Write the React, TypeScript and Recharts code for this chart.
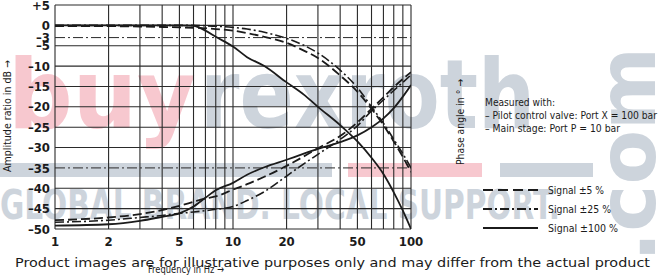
import React from 'react'
import { LineChart, Line, XAxis, YAxis, ReferenceLine } from 'recharts'

// frequency in Hz
const freqHz = [1, 2, 3, 4, 5, 6, 7, 8, 10, 12, 15, 20, 25, 30, 40, 50, 60, 70, 80, 90, 100]

// amplitude ratio in dB
const ampSignal5 = [-0.2, -0.2, -0.3, -0.4, -0.5, -0.6, -0.7, -0.9, -1.3, -1.9, -2.8, -4.3, -6.2, -8, -12.3, -16.3, -20.5, -24.5, -28.5, -32.3, -36]
const ampSignal25 = [0, 0, 0, 0, 0, 0, -0.1, -0.2, -0.5, -0.9, -1.7, -3.2, -4.9, -6.8, -11, -15.3, -20, -24, -28, -31.5, -35]
const ampSignal100 = [0, 0, 0, 0, 0, -0.1, -1.3, -2.8, -5.2, -7.8, -10, -14, -17, -20, -24.5, -28.5, -32.5, -36.5, -41, -45.5, -50]

// phase angle in degrees
const phaseSignal5 = [13, 17, 22, 28, 34, 40, 45, 48, 58, 66, 77, 93, 107, 119, 137, 157, 177, 194, 209, 221, 231]
const phaseSignal25 = [10, 13, 17, 20, 23, 25, 27, 29, 33, 42, 55, 78, 96, 110, 132, 152, 174, 190, 204, 216, 227]
const phaseSignal100 = [5, 7, 12, 18, 23, 33, 46, 57, 68, 80, 91, 102, 111, 118, 128, 138, 150, 163, 178, 195, 212]

const freqGrid = [1, 2, 3, 4, 5, 6, 7, 8, 9, 10, 20, 30, 40, 50, 60, 70, 80, 90, 100]
const freqLabels = [1, 2, 5, 10, 20, 50, 100]
const dbTicks = [5, 0, -3, -5, -10, -15, -20, -25, -30, -35, -40, -45, -50]
const dbGrid = [5, 0, -5, -10, -15, -20, -25, -30, -40, -45, -50]
const dbMarkers = [-3, -35]
const phaseLabelAt = [-50, -35, -20, -3]
const phaseLabels = ['0', '90', '180', '270']

const data = freqHz.map((f, i) => ({
  f,
  a5: ampSignal5[i],
  a25: ampSignal25[i],
  a100: ampSignal100[i],
  p5: phaseSignal5[i],
  p25: phaseSignal25[i],
  p100: phaseSignal100[i]
}))

const narrow = "'Liberation Sans Narrow', 'DejaVu Sans Condensed', sans-serif"
const ink = '#1b1b1b'
const gridInk = '#2a2a2a'
const pink = '#f7c8cf'
const slate = '#cdd4dc'

const dashed = '9 4'
const dashDot = '9 3 2 3'

const fmtDb = (v: number) => (v > 0 ? `+${v}` : v < 0 ? `–${-v}` : '0')
const fmtPhase = (v: number) => phaseLabels[phaseLabelAt.indexOf(v)] ?? ''

export default function App() {
  return (
    <div style={{ position: 'absolute', left: 0, top: 0, width: 660, height: 278, background: '#fff', overflow: 'hidden' }}>
      {/* watermark */}
      <svg width={660} height={278} style={{ position: 'absolute', left: 0, top: 0 }}>
        <g fontFamily="'DejaVu Sans', sans-serif" fontWeight={700}>
          <text x={8} y={128} fontSize={96} fill={pink} textLength={188} lengthAdjust="spacingAndGlyphs">buy</text>
          <text x={200} y={128} fontSize={96} fill={slate} textLength={335} lengthAdjust="spacingAndGlyphs">rexroth</text>
          <rect x={0} y={163} width={332} height={14} fill={slate} />
          <rect x={348} y={163} width={134} height={14} fill={pink} />
          <rect x={500} y={163} width={93} height={14} fill={slate} />
          <text x={0} y={219} fontSize={40} fill={slate} textLength={560} lengthAdjust="spacingAndGlyphs">GLOBAL BRAND. LOCAL SUPPORT.</text>
          <text transform="translate(655,262) rotate(-90)" fontSize={80} fill={slate} textLength={215} lengthAdjust="spacingAndGlyphs">.com</text>
        </g>
      </svg>

      <div style={{ position: 'absolute', left: 0, top: 0 }}>
        <LineChart width={660} height={278} data={data} margin={{ top: 5, right: 219, bottom: 24, left: 5 }}>
          <XAxis
            dataKey="f"
            type="number"
            scale="log"
            domain={[1, 100]}
            ticks={freqGrid}
            interval={0}
            allowDataOverflow
            axisLine={false}
            tickLine={false}
            tickSize={3}
            tickMargin={5}
            height={25}
            tickFormatter={(v: number) => (freqLabels.includes(v) ? String(v) : '')}
            tick={{ fontSize: 13, fontWeight: 700, fill: ink, fontFamily: narrow }}
          />
          <YAxis
            yAxisId="db"
            type="number"
            domain={[-50, 5]}
            ticks={dbTicks}
            interval={0}
            width={50}
            axisLine={false}
            tickLine={false}
            tickSize={3}
            tickMargin={2}
            tickFormatter={fmtDb}
            tick={{ fontSize: 13, fontWeight: 700, fill: ink, fontFamily: narrow }}
          />
          <YAxis
            yAxisId="dbRight"
            orientation="right"
            type="number"
            domain={[-50, 5]}
            ticks={phaseLabelAt}
            interval={0}
            width={30}
            axisLine={false}
            tickLine={false}
            tickSize={4}
            tickMargin={2}
            tickFormatter={fmtPhase}
            tick={{ fontSize: 13, fontWeight: 700, fill: ink, fontFamily: narrow }}
          />
          <YAxis yAxisId="phase" type="number" domain={[0, 330]} hide />

          {freqGrid.map(f => (
            <ReferenceLine key={`x${f}`} yAxisId="db" x={f} stroke={gridInk} strokeWidth={1.1} />
          ))}
          {dbGrid.map(v => (
            <ReferenceLine key={`y${v}`} yAxisId="db" y={v} stroke={gridInk} strokeWidth={1.1} />
          ))}
          {dbMarkers.map(v => (
            <ReferenceLine key={`m${v}`} yAxisId="db" y={v} stroke={gridInk} strokeWidth={1} strokeDasharray="10 3 2 3" />
          ))}

          <Line yAxisId="db" type="monotone" dataKey="a5" stroke={ink} strokeWidth={1.8} strokeDasharray={dashed} dot={false} isAnimationActive={false} />
          <Line yAxisId="db" type="monotone" dataKey="a25" stroke={ink} strokeWidth={1.6} strokeDasharray={dashDot} dot={false} isAnimationActive={false} />
          <Line yAxisId="db" type="monotone" dataKey="a100" stroke={ink} strokeWidth={1.8} dot={false} isAnimationActive={false} />
          <Line yAxisId="phase" type="monotone" dataKey="p5" stroke={ink} strokeWidth={1.8} strokeDasharray={dashed} dot={false} isAnimationActive={false} />
          <Line yAxisId="phase" type="monotone" dataKey="p25" stroke={ink} strokeWidth={1.6} strokeDasharray={dashDot} dot={false} isAnimationActive={false} />
          <Line yAxisId="phase" type="monotone" dataKey="p100" stroke={ink} strokeWidth={1.8} dot={false} isAnimationActive={false} />
        </LineChart>
      </div>

      {/* labels, notes and key */}
      <svg width={660} height={278} style={{ position: 'absolute', left: 0, top: 0, pointerEvents: 'none' }}>
        <g fontFamily={narrow} fill={ink} fontSize={11} lengthAdjust="spacingAndGlyphs">
          <text transform="translate(11,116) rotate(-90)" textAnchor="middle" textLength={112} lengthAdjust="spacingAndGlyphs">Amplitude ratio in dB →</text>
          <text transform="translate(464,122) rotate(-90)" textAnchor="middle" textLength={86} lengthAdjust="spacingAndGlyphs">Phase angle in ° →</text>
          <text x={148} y={273} textLength={76} lengthAdjust="spacingAndGlyphs">Frequency in Hz →</text>
          <text x={485} y={106} textLength={70} lengthAdjust="spacingAndGlyphs">Measured with:</text>
          <text x={485} y={119} textLength={172} lengthAdjust="spacingAndGlyphs">– Pilot control valve: Port X = 100 bar</text>
          <text x={485} y={132} textLength={135} lengthAdjust="spacingAndGlyphs">– Main stage: Port P = 10 bar</text>
          <text x={548} y={194} textLength={56} lengthAdjust="spacingAndGlyphs">Signal ±5 %</text>
          <text x={548} y={213} textLength={63} lengthAdjust="spacingAndGlyphs">Signal ±25 %</text>
          <text x={548} y={232} textLength={70} lengthAdjust="spacingAndGlyphs">Signal ±100 %</text>
        </g>
        <line x1={483} y1={190} x2={538} y2={190} stroke={ink} strokeWidth={2} strokeDasharray="10 5" />
        <line x1={483} y1={209} x2={538} y2={209} stroke={ink} strokeWidth={2} strokeDasharray={dashDot} />
        <line x1={483} y1={228} x2={538} y2={228} stroke={ink} strokeWidth={2} />
        <text x={15} y={267} fontFamily="'DejaVu Sans', sans-serif" fontSize={13} fill={ink} textLength={635} lengthAdjust="spacingAndGlyphs">
          Product images are for illustrative purposes only and may differ from the actual product
        </text>
      </svg>
    </div>
  )
}
